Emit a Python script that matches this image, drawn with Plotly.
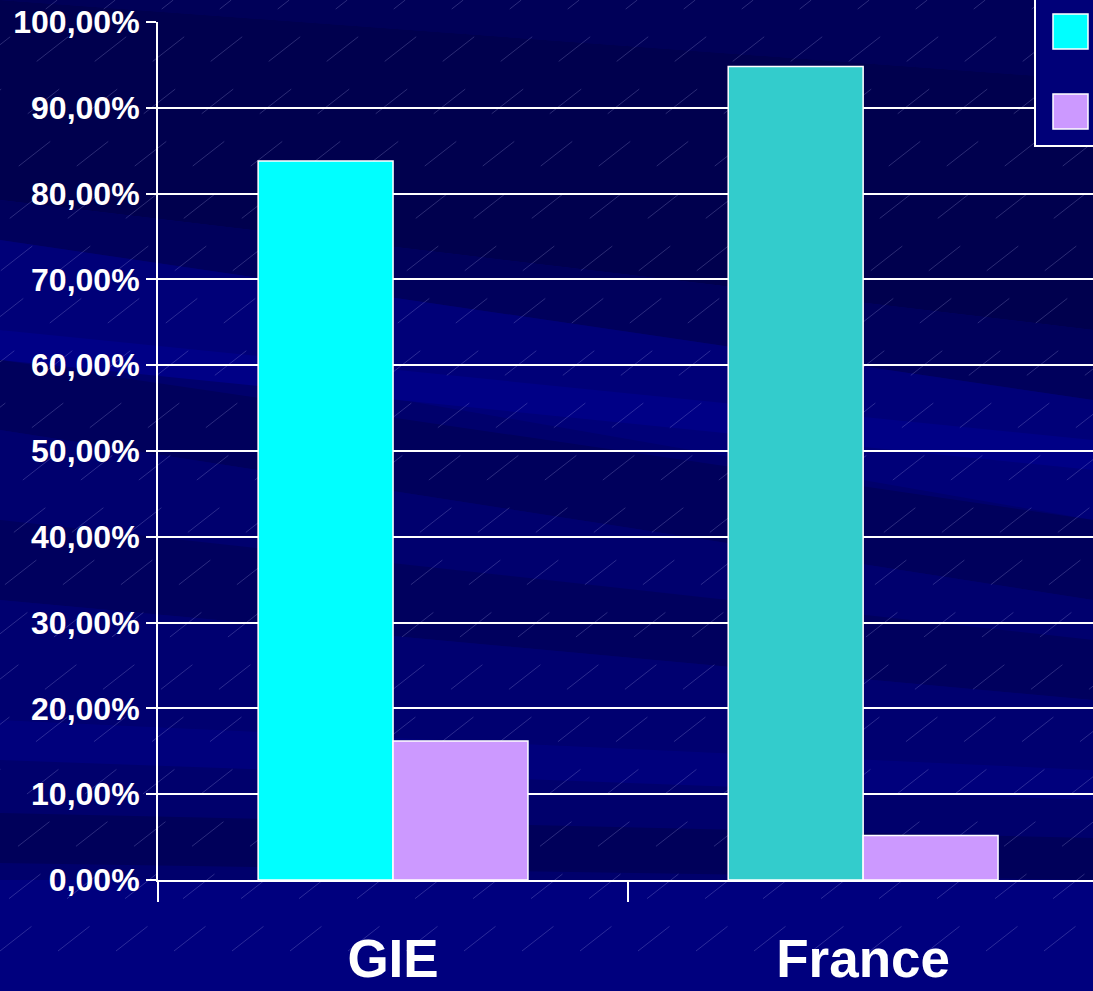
import plotly.graph_objects as go

# ---- data ----
categories = ["GIE", "France"]
series1_values = [83.8, 94.8]
series2_values = [16.2, 5.2]
series1_colors = ["#00FFFF", "#33CCCC"]
series2_color = "#CC99FF"
y_ticks = [0, 10, 20, 30, 40, 50, 60, 70, 80, 90, 100]
y_tick_labels = [f"{v:.2f}".replace(".", ",") + "%" for v in y_ticks]

W, H = 1093, 991
L, T, B = 158, 22, 111
PLOT_W = W - L
PLOT_H = H - T - B


def px(x):
    return (x - L) / PLOT_W


def py(y):
    return (H - B - y) / PLOT_H


def poly(points, color):
    d = "M " + " L ".join(f"{px(a)},{py(b)}" for a, b in points) + " Z"
    return dict(type="path", path=d, xref="paper", yref="paper",
                fillcolor=color, line=dict(width=0), layer="below")


def band(l0, l1, r0, r1, color):
    return poly([(0, l0), (W, r0), (W, r1), (0, l1)], color)


shapes = []
# background bands
shapes.append(poly([(0, 0), (W, 0), (W, H), (0, H)], "#00006C"))
shapes.append(band(0, 0, 0, 80, "#000058"))
shapes.append(band(0, 200, 80, 330, "#00004E"))
shapes.append(band(200, 240, 330, 400, "#00005C"))
shapes.append(band(240, 330, 400, 520, "#000078"))
shapes.append(band(330, 360, 440, 470, "#000086"))
shapes.append(band(360, 430, 520, 600, "#00005C"))
shapes.append(band(430, 520, 600, 640, "#00006E"))
shapes.append(band(520, 600, 640, 700, "#00005E"))
shapes.append(band(600, 720, 700, 770, "#000070"))
shapes.append(band(720, 760, 770, 800, "#00007C"))
shapes.append(band(813, 863, 838, 880, "#00005A"))
shapes.append(poly([(0, 880), (W, 880), (W, H), (0, H)], "#00007E"))

# faint diagonal dashed lines
for k in range(-28, 24):
    x0 = k * 58
    shapes.append(dict(type="line", xref="paper", yref="paper",
                       x0=px(x0), y0=py(H - 40), x1=px(x0 + 1.28 * (H - 40)), y1=py(0),
                       line=dict(color="rgba(200,200,255,0.22)", width=1, dash="40px,45px"),
                       layer="below"))

# legend box (labels fall outside the canvas)
shapes.append(dict(type="rect", xref="paper", yref="paper",
                   x0=px(1035), y0=py(146), x1=px(1110), y1=py(-10),
                   fillcolor="#000078", line=dict(color="white", width=2), layer="above"))
shapes.append(dict(type="rect", xref="paper", yref="paper",
                   x0=px(1053), y0=py(49), x1=px(1088), y1=py(14),
                   fillcolor=series1_colors[0], line=dict(color="white", width=1.5), layer="above"))
shapes.append(dict(type="rect", xref="paper", yref="paper",
                   x0=px(1053), y0=py(129), x1=px(1088), y1=py(94),
                   fillcolor=series2_color, line=dict(color="white", width=1.5), layer="above"))

fig = go.Figure()
fig.add_trace(go.Bar(x=categories, y=series1_values, name="Série 1",
                     marker=dict(color=series1_colors, line=dict(color="white", width=1.5)),
                     showlegend=False))
fig.add_trace(go.Bar(x=categories, y=series2_values, name="Série 2",
                     marker=dict(color=series2_color, line=dict(color="white", width=1.5)),
                     showlegend=False))

fig.update_layout(
    width=W, height=H,
    margin=dict(l=L, r=0, t=T, b=B, autoexpand=False),
    paper_bgcolor="#00006C",
    plot_bgcolor="rgba(0,0,0,0)",
    barmode="group",
    bargap=0.426,
    bargroupgap=0,
    shapes=shapes,
    font=dict(family="Liberation Sans, Arial, sans-serif", color="white"),
)
fig.update_xaxes(
    range=[-0.5, 1.489],
    showline=True, linecolor="white", linewidth=2,
    ticks="outside", tickson="boundaries", ticklen=20, tickwidth=2, tickcolor="white",
    tickfont=dict(size=53, family="Liberation Sans, Arial, sans-serif", color="white", weight="bold"),
    ticklabelstandoff=31,
    showgrid=False,
)
fig.update_yaxes(
    range=[0, 100],
    tickvals=y_ticks, ticktext=y_tick_labels,
    showline=True, linecolor="white", linewidth=2,
    ticks="outside", ticklen=10, tickwidth=2, tickcolor="white",
    showgrid=True, gridcolor="white", gridwidth=2,
    zeroline=False,
    tickfont=dict(size=32, family="Liberation Sans, Arial, sans-serif", color="white", weight="bold"),
    ticklabelstandoff=0,
)

fig.write_html(
    "out.html",
    config={"displayModeBar": False},
    post_script="document.body.style.margin='0';document.body.style.overflow='hidden';"
                "window.dispatchEvent(new Event('resize'));",
)
